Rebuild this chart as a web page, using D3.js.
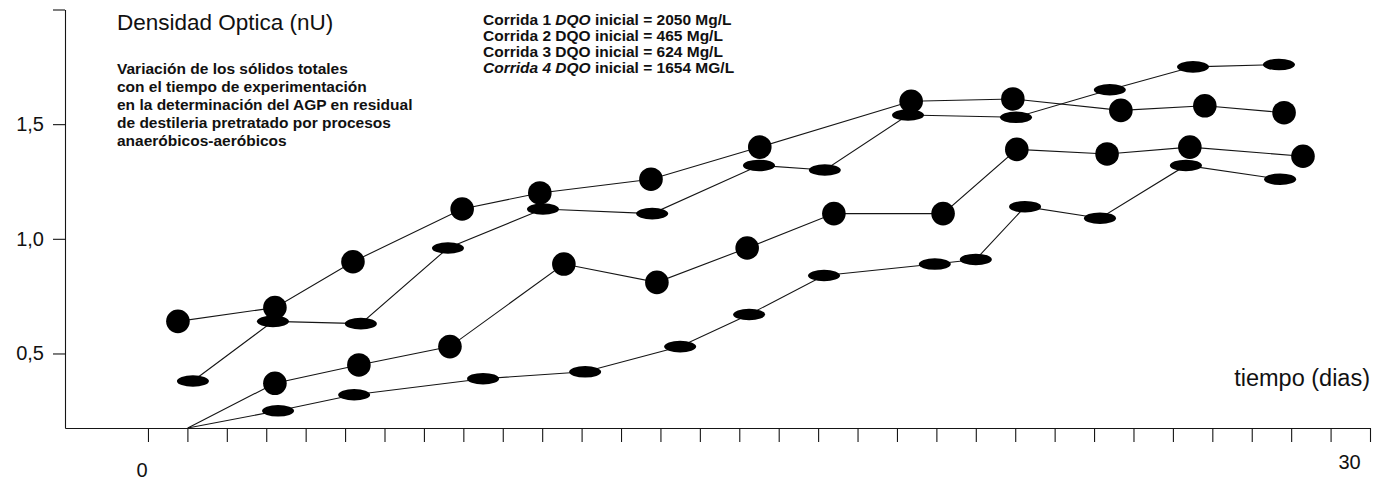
<!DOCTYPE html>
<html><head><meta charset="utf-8">
<script src="https://cdn.jsdelivr.net/npm/d3@7/dist/d3.min.js"></script>
<style>
body{margin:0;background:#fff}
svg{display:block}
text{font-family:"Liberation Sans",Arial,Helvetica,sans-serif;fill:#111}
</style>
</head><body>
<svg id="c" width="1385" height="480"></svg>
<script>
// ---- data ----
const xTicks = d3.range(0, 32);
const xTickLabels = ["0", "30"];
const xTickLabelDays = [0, 30];
const yTicks = [0.5, 1.0, 1.5, 2.0];
const yTickLabels = ["0,5", "1,0", "1,5", ""];

// series A: circles (upper)
const daysA = [0.76, 3.22, 5.20, 7.97, 9.94, 12.76, 15.52, 19.36, 21.94, 24.68, 26.81, 28.82];
const valsA = [0.64, 0.70, 0.90, 1.13, 1.20, 1.26, 1.40, 1.60, 1.61, 1.56, 1.58, 1.55];
// series B: ellipses (upper)
const daysB = [1.14, 3.17, 5.40, 7.61, 10.02, 12.79, 15.50, 17.17, 19.28, 22.02, 24.40, 26.51, 28.69];
const valsB = [0.38, 0.64, 0.63, 0.96, 1.13, 1.11, 1.32, 1.30, 1.54, 1.53, 1.65, 1.75, 1.76];
// series C: circles (lower) – line starts on the baseline
const daysC = [1.01, 3.22, 5.35, 7.66, 10.55, 12.91, 15.20, 17.40, 20.17, 22.04, 24.33, 26.43, 29.30];
const valsC = [0.175, 0.37, 0.45, 0.53, 0.89, 0.81, 0.96, 1.11, 1.11, 1.39, 1.37, 1.40, 1.36];
// series D: ellipses (lower) – line starts on the baseline
const daysD = [1.01, 3.30, 5.23, 8.50, 11.09, 13.50, 15.25, 17.15, 19.96, 21.00, 22.25, 24.15, 26.33, 28.72];
const valsD = [0.175, 0.25, 0.32, 0.39, 0.42, 0.53, 0.67, 0.84, 0.89, 0.91, 1.14, 1.09, 1.32, 1.26];

const seriesShapes = ["circle", "ellipse", "circle", "ellipse"];
const seriesMarkerFrom = [0, 0, 1, 1];

const titleText = "Densidad Optica (nU)";
const subtitleLines = [
  "Variación de los sólidos totales",
  "con el tiempo de experimentación",
  "en la determinación del AGP en residual",
  "de destileria pretratado por procesos",
  "anaeróbicos-aeróbicos"
];
const legendRuns = ["Corrida 1", "Corrida 2", "Corrida 3", "Corrida 4"];
const legendDQO = ["2050 Mg/L", "465 Mg/L", "624 Mg/L", "1654 MG/L"];
const xAxisTitle = "tiempo (dias)";

// ---- drawing ----
const svg = d3.select("#c");
const x = d3.scaleLinear().domain([-2.105, 31]).range([65, 1370]);
const y = d3.scaleLinear().domain([0.175, 2.0]).range([428, 9.5]);

const ink = "#151515";

// y axis
const yAxis = svg.append("g").attr("transform", "translate(65,0)")
  .call(d3.axisLeft(y).tickValues(yTicks).tickSize(12).tickSizeOuter(0).tickPadding(9)
    .tickFormat((d, i) => yTickLabels[i]));
yAxis.selectAll("path,line").attr("stroke", ink).attr("stroke-width", 1.1);
yAxis.selectAll("text").style("font-size", "20px").attr("fill", ink)
  .style("font-family", '"Liberation Sans",Arial,sans-serif');

// x axis
const xAxis = svg.append("g").attr("transform", "translate(0,428)")
  .call(d3.axisBottom(x).tickValues(xTicks).tickSize(14).tickSizeOuter(0).tickFormat(""));
xAxis.selectAll("path,line").attr("stroke", ink).attr("stroke-width", 1.1);

// x tick labels
svg.selectAll(".xl").data(xTickLabels).enter().append("text")
  .attr("class", "xl")
  .attr("x", (d, i) => x(xTickLabelDays[i]) + (i === 0 ? -6 : 19))
  .attr("y", (d, i) => i === 0 ? 477 : 469)
  .attr("text-anchor", "middle")
  .style("font-size", "20px")
  .text(d => d);

// x axis title
svg.append("text").attr("x", 1370).attr("y", 386).attr("text-anchor", "end")
  .style("font-size", "23.5px").text(xAxisTitle);

// title
svg.append("text").attr("x", 117).attr("y", 30).style("font-size", "22.5px").text(titleText);

// subtitle
svg.append("g").selectAll("text").data(subtitleLines).enter().append("text")
  .attr("x", 117).attr("y", (d, i) => 73.5 + i * 18)
  .style("font-size", "15.5px").style("font-weight", "bold").text(d => d);

// legend
const lg = svg.append("g").selectAll("text").data(legendRuns).enter().append("text")
  .attr("x", 483).attr("y", (d, i) => 24.5 + i * 16)
  .style("font-size", "15.5px").style("font-weight", "bold");
lg.append("tspan").style("font-style", (d, i) => i === 3 ? "italic" : "normal").text(d => d + " ");
lg.append("tspan").style("font-style", (d, i) => (i === 0 || i === 3) ? "italic" : "normal").text("DQO");
lg.append("tspan").text((d, i) => " inicial = " + legendDQO[i]);

// series
const allDays = [daysA, daysB, daysC, daysD];
const allVals = [valsA, valsB, valsC, valsD];
const line = d3.line().x(d => x(d[0])).y(d => y(d[1]));

allDays.forEach((days, s) => {
  const pts = days.map((d, i) => [d, allVals[s][i]]);
  svg.append("path").datum(pts).attr("d", line)
    .attr("fill", "none").attr("stroke", ink).attr("stroke-width", 1.1);
});
allDays.forEach((days, s) => {
  const pts = days.map((d, i) => [d, allVals[s][i]]).slice(seriesMarkerFrom[s]);
  const g = svg.append("g");
  if (seriesShapes[s] === "circle") {
    g.selectAll("circle").data(pts).enter().append("circle")
      .attr("cx", d => x(d[0])).attr("cy", d => y(d[1])).attr("r", 11.8).attr("fill", "#000");
  } else {
    g.selectAll("ellipse").data(pts).enter().append("ellipse")
      .attr("cx", d => x(d[0])).attr("cy", d => y(d[1])).attr("rx", 16).attr("ry", 5.8).attr("fill", "#000");
  }
});
</script>
</body></html>
